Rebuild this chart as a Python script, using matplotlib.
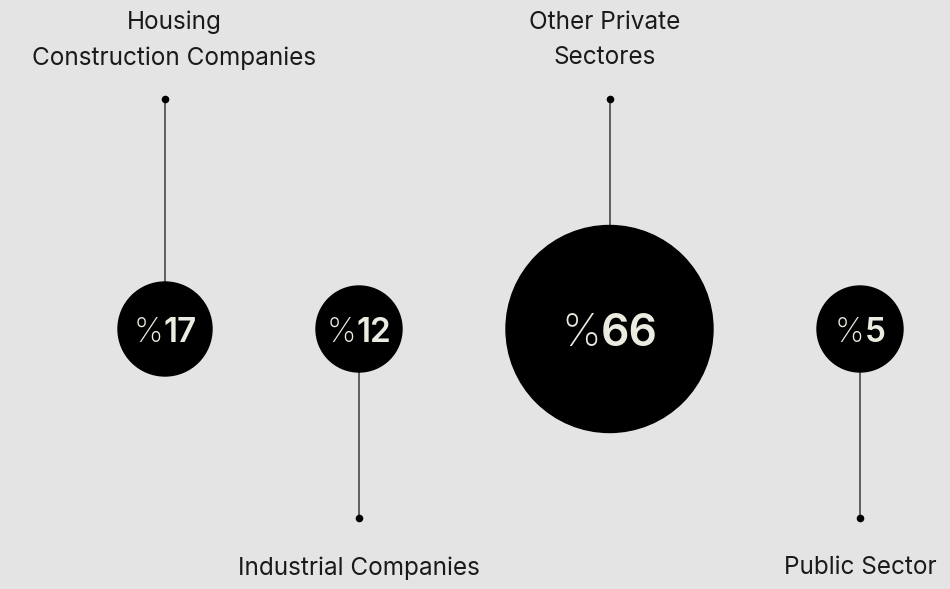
import matplotlib
matplotlib.use("Agg")
import matplotlib.pyplot as plt
from matplotlib.patches import Circle

# ---- data ----
categories = ["Housing\nConstruction Companies", "Industrial Companies",
              "Other Private\nSectores", "Public Sector"]
values = [17, 12, 66, 5]
prefix = "%"

# ---- style / layout ----
W, H = 950, 589
BG = "#e4e4e4"
CIRCLE = "#000000"
NUM_COLOR = "#ecebe1"
LINE_COLOR = "#555555"
FONT = ["Inter", "DejaVu Sans"]
CY = 329          # circle centre row
GAP = 104         # edge-to-edge gap between circles
X0 = 118          # left edge of first circle
TOP_DOT, BOT_DOT = 99, 518
TOP_LABEL_Y, BOT_LABEL_Y = 40, 568
LABEL_DX = [9, 0, -5, 0]
LABEL_FS = 17.5


def radius(v):
    return max(43.0, 27.4 + 1.153 * v)


fig = plt.figure(figsize=(W / 100, H / 100), dpi=100)
fig.patch.set_facecolor(BG)
ax = fig.add_axes([0, 0, 1, 1])
ax.set_xlim(0, W)
ax.set_ylim(H, 0)
ax.set_facecolor(BG)
ax.axis("off")

renderer = fig.canvas.get_renderer()

x = X0
for i, (cat, v) in enumerate(zip(categories, values)):
    r = radius(v)
    cx = x + r
    x = cx + r + GAP
    top = (i % 2 == 0)

    # connector line + dot
    if top:
        ax.plot([cx, cx], [TOP_DOT, CY - r], color=LINE_COLOR, lw=1.3, zorder=1)
        ax.scatter([cx], [TOP_DOT], s=30, color="black", zorder=3, linewidths=0)
        ax.text(cx + LABEL_DX[i], TOP_LABEL_Y, cat, ha="center", va="center",
                fontsize=LABEL_FS, color="#1a1a1a", family=FONT, linespacing=1.68)
    else:
        ax.plot([cx, cx], [CY + r, BOT_DOT], color=LINE_COLOR, lw=1.3, zorder=1)
        ax.scatter([cx], [BOT_DOT], s=30, color="black", zorder=3, linewidths=0)
        ax.text(cx + LABEL_DX[i], BOT_LABEL_Y, cat, ha="center", va="center",
                fontsize=LABEL_FS, color="#1a1a1a", family=FONT)

    ax.add_patch(Circle((cx, CY), r, color=CIRCLE, zorder=2))

    fs = max(24, 0.31 * r)
    t1 = ax.text(0, CY, prefix, ha="left", va="center_baseline", fontsize=fs,
                 fontweight="light", color=NUM_COLOR, family=FONT, zorder=4)
    t2 = ax.text(0, CY, str(v), ha="left", va="center_baseline", fontsize=fs,
                 fontweight="semibold", color=NUM_COLOR, family=FONT, zorder=4)
    w1 = t1.get_window_extent(renderer).width
    w2 = t2.get_window_extent(renderer).width
    total = w1 + w2
    start = cx - total / 2
    t1.set_x(start)
    t2.set_x(start + w1)

fig.savefig("out.png", dpi=100, facecolor=BG)
